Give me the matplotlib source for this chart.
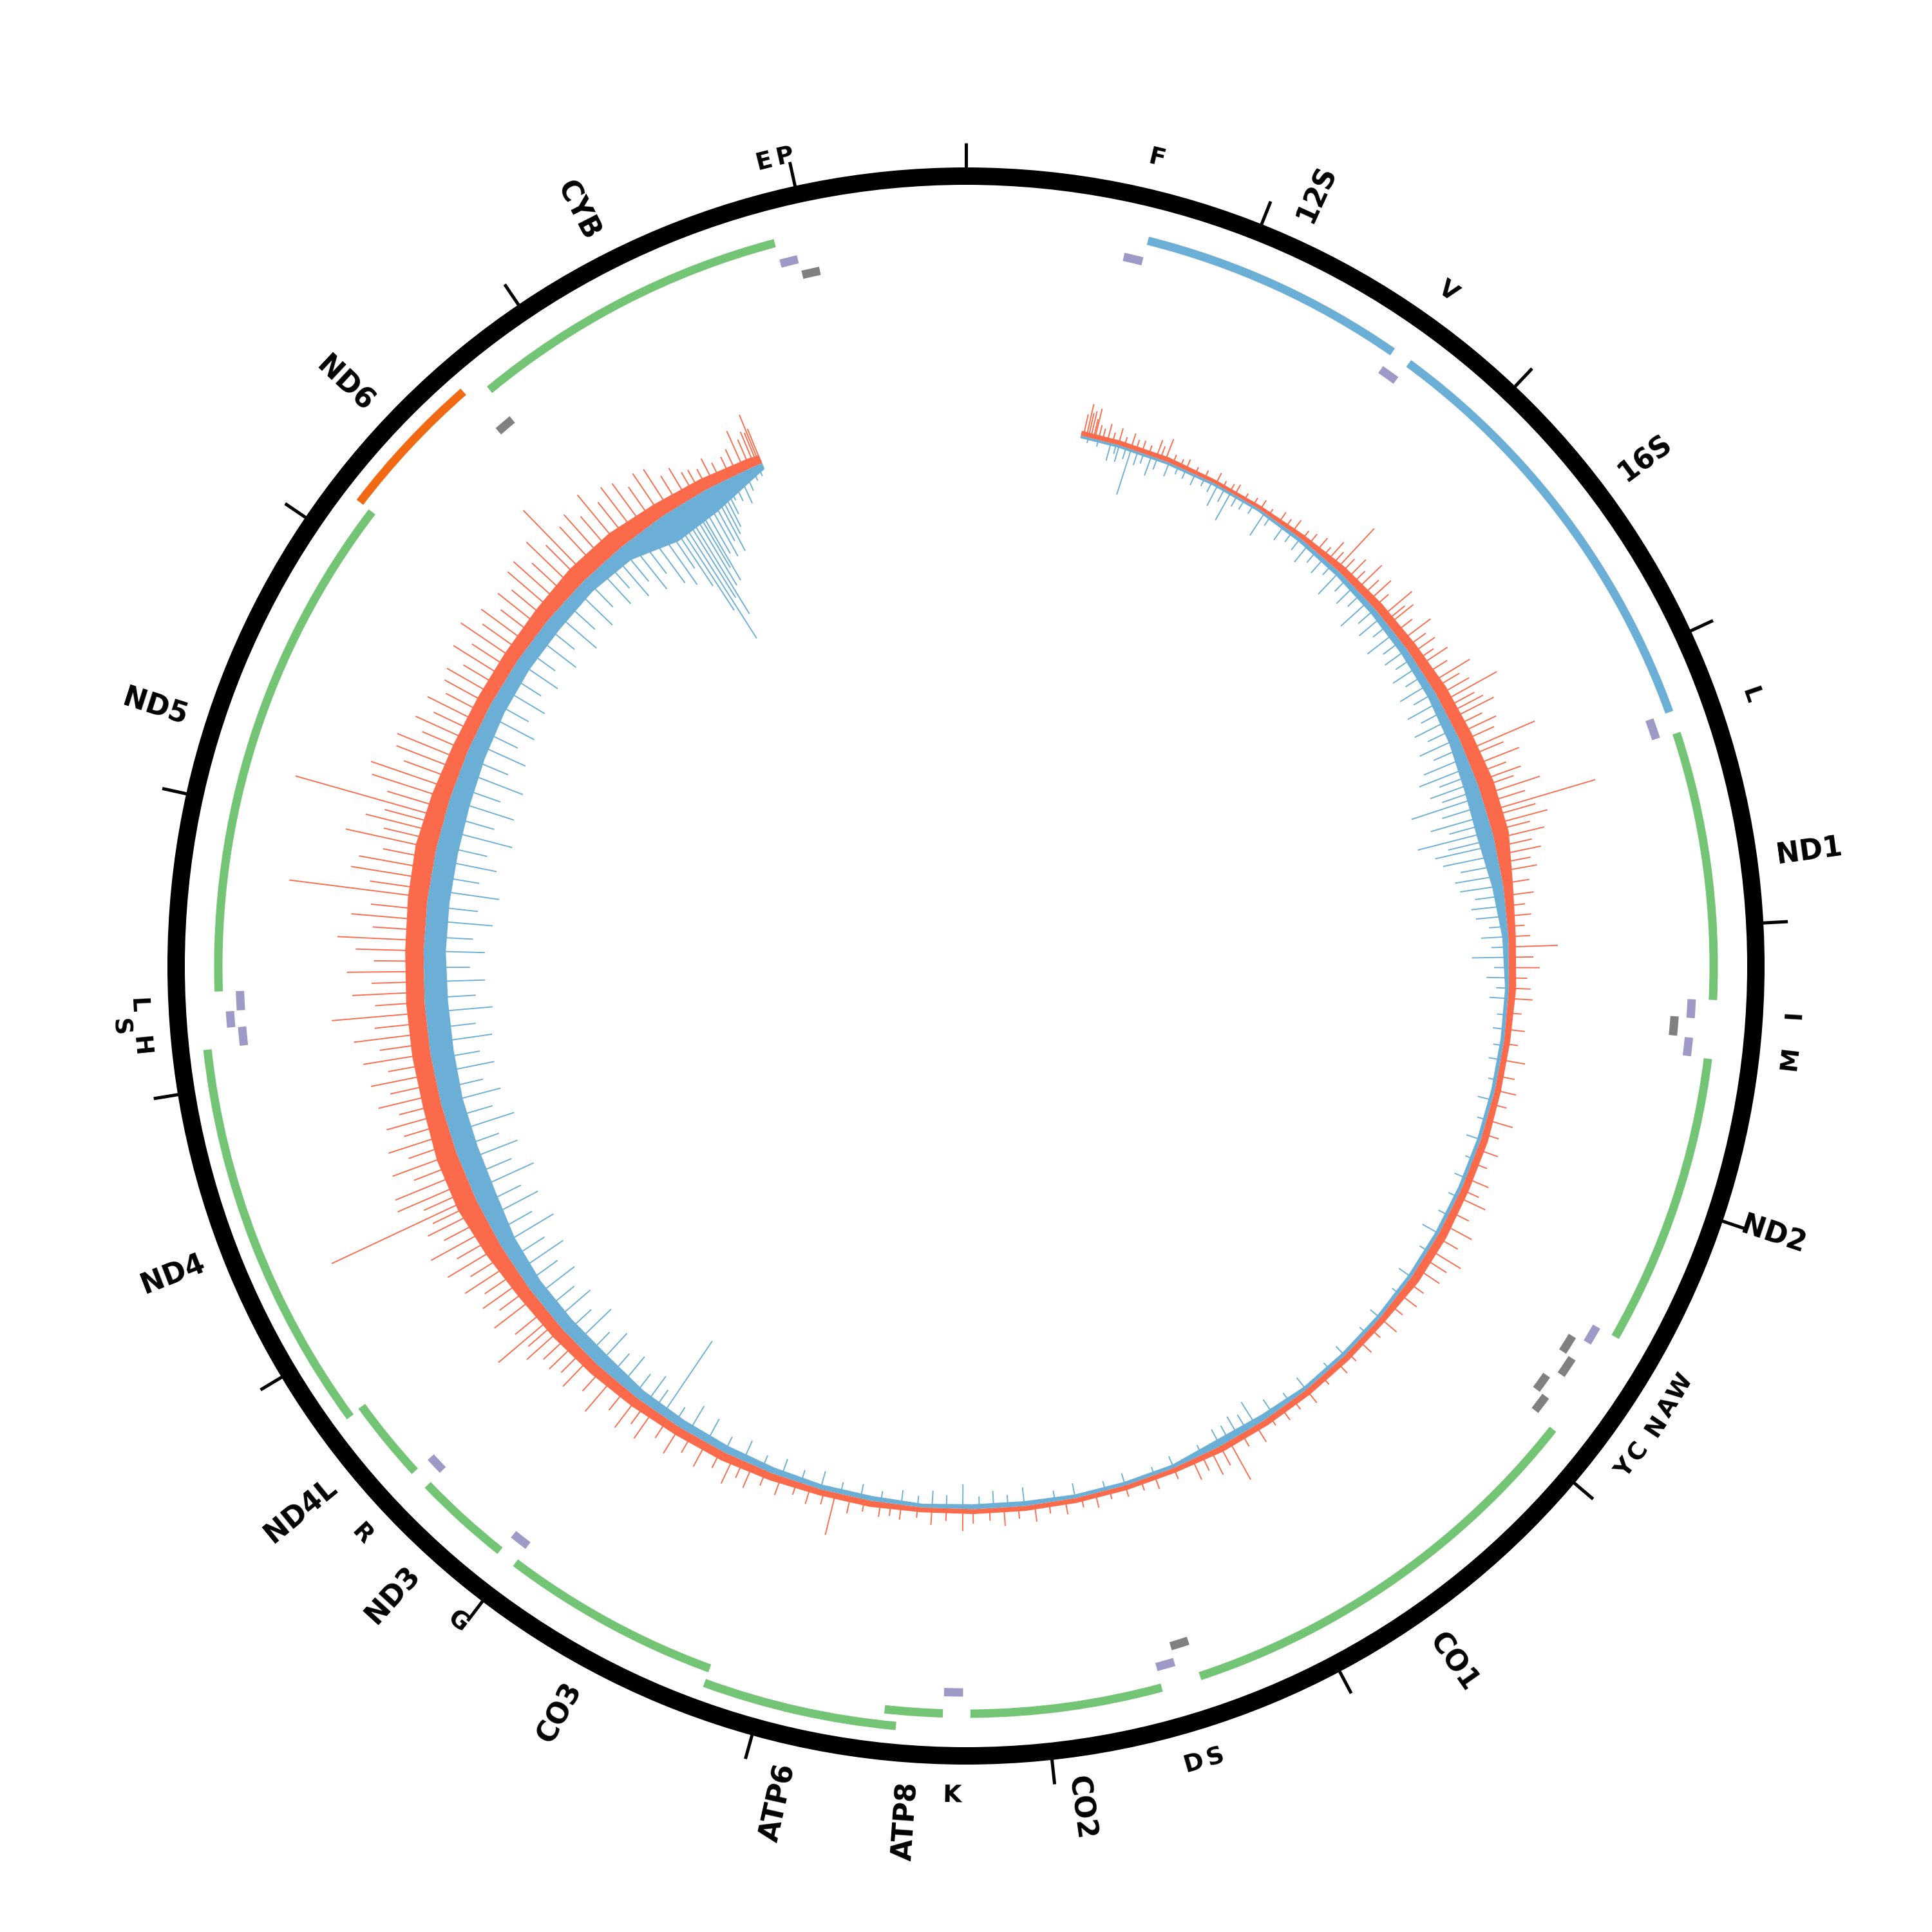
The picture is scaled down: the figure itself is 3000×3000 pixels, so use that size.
import numpy as np
import matplotlib.pyplot as plt

GENOME_LEN = 16569

# protein coding + rRNA genes
gene_names = ['12S', '16S', 'ND1', 'ND2', 'CO1', 'CO2', 'ATP8', 'ATP6', 'CO3',
              'ND3', 'ND4L', 'ND4', 'ND5', 'ND6', 'CYB']
gene_start = [648, 1671, 3307, 4470, 5904, 7586, 8366, 8527, 9207,
              10059, 10470, 10760, 12337, 14149, 14747]
gene_end = [1601, 3229, 4262, 5511, 7445, 8269, 8572, 9207, 9990,
            10404, 10766, 12137, 14148, 14673, 15887]
gene_kind = ['rRNA', 'rRNA', 'H', 'H', 'H', 'H', 'H', 'H', 'H',
             'H', 'H', 'H', 'H', 'L', 'H']

# tRNAs (label as printed on the figure, '' = not labelled)
trna_start = [577, 1602, 3230, 4263, 4329, 4402, 5512, 5587, 5657, 5761, 5826,
              7446, 7518, 8295, 9991, 10405, 12138, 12207, 12266, 14674, 15888, 15956]
trna_end = [647, 1670, 3304, 4331, 4400, 4469, 5579, 5655, 5729, 5826, 5891,
            7514, 7585, 8364, 10058, 10469, 12206, 12265, 12336, 14742, 15953, 16023]
trna_strand = ['H', 'H', 'H', 'H', 'L', 'H', 'H', 'L', 'L', 'L', 'L',
               'L', 'H', 'H', 'H', 'H', 'H', 'H', 'H', 'L', 'H', 'L']
trna_label = ['F', 'V', 'L', 'I', '', 'M', 'W', 'A', 'N', 'C', 'Y',
              'S', 'D', 'K', 'G', 'R', 'H', 'S', 'L', '', 'E', 'P']

# signal track: dense body (read every ~250 bp) + individual spikes
body_pos = [560, 750, 1000, 1250, 1500, 1750, 2000, 2250, 2500, 2750, 3000, 3250,
            3500, 3750, 4000, 4250, 4500, 4750, 5000, 5250, 5500, 5750, 6000, 6250,
            6500, 6750, 7000, 7250, 7500, 7750, 8000, 8250, 8500, 8750, 9000, 9250,
            9500, 9750, 10000, 10250, 10500, 10750, 11000, 11250, 11500, 11750, 12000,
            12250, 12500, 12750, 13000, 13250, 13500, 13750, 14000, 14250, 14500,
            14750, 15000, 15250, 15500, 15553]
plus_body = [4, 4, 4, 3, 3, 4, 6, 7, 8, 10, 11, 13,
             13, 8, 6, 6, 5, 5, 6, 6, 7, 7, 5, 5,
             5, 5, 5, 4, 4, 4, 4, 4, 4, 5, 5, 6,
             7, 7, 8, 9, 10, 11, 14, 17, 17, 15, 15,
             15, 15, 16, 17, 15, 13, 12, 12, 13, 15,
             15, 12, 10, 8, 7]
minus_body = [2, 2, 2, 2, 2, 3, 4, 5, 6, 7, 9, 12,
              13, 9, 5, 3, 3, 3, 3, 3, 3, 3, 3, 3,
              3, 5, 6, 3, 3, 3, 4, 4, 3, 4, 4, 5,
              6, 7, 8, 11, 11, 11, 13, 17, 18, 18, 19,
              19, 18, 18, 18, 17, 15, 13, 12, 12, 11,
              13, 24, 20, 8, 5]

plus_spike_pos = [
    575, 590, 600, 612, 625, 632, 650, 670, 694, 720, 750, 780, 814, 840, 870, 905,
    944, 965, 990, 1030, 1070, 1100, 1150, 1200, 1261, 1300, 1340, 1367, 1420, 1470,
    1510, 1560,
    1620, 1660, 1700, 1760, 1800, 1850, 1890, 1920, 1950, 1980, 2010, 2050, 2085,
    2120, 2160, 2200, 2240, 2300, 2330, 2350, 2400, 2450, 2490, 2530, 2570, 2600, 2650,
    2700, 2730, 2770, 2807, 2840, 2870, 2900, 2940, 2980, 3020, 3070, 3100, 3150,
    3190, 3230, 3260, 3300, 3340, 3383, 3410, 3450, 3480, 3520, 3560, 3600, 3640,
    3680, 3740, 3800,
    3850, 3900, 3950, 4000, 4050, 4100, 4150, 4200, 4250, 4300, 4370, 4450, 4520,
    4600, 4680, 4750, 4820, 4900, 4970, 5050, 5120, 5200, 5260, 5300, 5380, 5450,
    5520, 5590, 5640, 5700, 5780, 5850, 5920,
    6000, 6070, 6150, 6230, 6300, 6400, 6500, 6580, 6650, 6720, 6800, 6880, 6950,
    7000, 7050, 7100, 7150, 7250, 7350, 7420, 7500, 7580, 7650, 7720, 7800, 7880, 7950,
    8030, 8100, 8170, 8250, 8300, 8380, 8450, 8520, 8600, 8650, 8700, 8780, 8850,
    8924, 8980, 9050, 9120, 9200, 9280, 9350, 9400, 9450, 9520, 9600, 9680, 9750,
    9820, 9900,
    9950, 10000, 10070, 10150, 10220, 10300, 10350, 10400, 10450, 10500, 10540,
    10572, 10620, 10700, 10750, 10800, 10850, 10900, 10950,
    11000, 11050, 11100, 11150, 11200, 11240, 11270, 11310, 11350, 11400, 11450,
    11500, 11550, 11600, 11650, 11700, 11750, 11800, 11850, 11900, 11950, 12000,
    12050, 12100, 12150, 12200, 12250, 12300, 12350, 12400, 12450, 12500, 12550,
    12600, 12650, 12700, 12760, 12800, 12850,
    12900, 12950, 13000, 13040, 13080, 13120, 13155, 13200, 13250, 13300, 13350,
    13400, 13450, 13500, 13550, 13600, 13650, 13700, 13750, 13800, 13850, 13900,
    13950, 14000, 14050, 14100, 14150, 14200, 14250, 14300, 14350, 14400, 14450,
    14500, 14536, 14600, 14650, 14700,
    14750, 14800, 14850, 14900, 14950, 15000, 15050, 15100, 15150, 15190, 15221,
    15260, 15300, 15335, 15385, 15420, 15460, 15490, 15515, 15530, 15540, 15550]
plus_spike_val = [
    18, 27, 20, 22, 16, 25, 12, 10, 15, 9, 14, 8, 13, 9, 10, 8,
    15, 11, 19, 8, 7, 9, 6, 7, 10, 6, 7, 9, 6, 7,
    9, 6,
    10, 8, 12, 9, 11, 14, 10, 20, 14, 45, 16, 22, 15,
    28, 18, 25, 16, 32, 20, 26, 18, 30, 20, 24, 18, 28, 22,
    38, 25, 30, 52, 28, 33, 40, 26, 35, 30, 62, 32, 42,
    28, 38, 30, 50, 35, 92, 40, 48, 32, 42, 30, 36, 26,
    30, 22, 24,
    16, 20, 14, 18, 40, 20, 25, 15, 18, 20, 12, 16, 12,
    20, 14, 18, 13, 22, 14, 18, 13, 20, 16, 25, 17, 26,
    20, 30, 22, 22, 16, 18, 13,
    18, 11, 14, 10, 12, 9, 14, 10, 12, 9, 16, 12, 36,
    18, 22, 14, 18, 10, 12, 9, 10, 8, 12, 9, 12, 9, 14,
    10, 15, 10, 12, 18, 10, 14, 9, 12, 10, 12, 10, 14,
    35, 12, 15, 11, 16, 13, 20, 15, 24, 16, 22, 17, 25,
    18, 28,
    20, 30, 22, 35, 24, 32, 25, 30, 28, 38, 30,
    57, 32, 42, 30, 40, 32, 45, 34,
    50, 36, 55, 38, 48, 40, 128, 42, 62, 60, 40,
    55, 38, 52, 36, 48, 35, 50, 38, 52, 36, 55,
    40, 60, 42, 76, 40, 58, 42, 62, 40, 55, 70,
    42, 60, 45, 113, 48, 65,
    60, 42, 75, 45, 62, 48, 125, 50, 66, 70, 45,
    55, 58, 40, 50, 38, 48, 36, 42, 45, 35, 50,
    38, 55, 40, 48, 35, 45, 38, 50, 52, 40, 55,
    42, 75, 45, 50, 40,
    55, 40, 48, 45, 35, 42, 40, 28, 30, 22, 21,
    18, 24, 17, 18, 22, 35, 25, 30, 28, 43, 30]

minus_spike_pos = [
    600, 650, 713, 740, 755, 790, 816, 850, 880, 920, 950, 1012, 1060, 1100, 1150,
    1200, 1240, 1272, 1310, 1345, 1380, 1420, 1470, 1537, 1570,
    1650, 1700, 1750, 1800, 1850, 1900, 1950, 2000, 2050, 2100, 2150, 2200, 2250,
    2300, 2350, 2400, 2450, 2500, 2550, 2600, 2650,
    2700, 2750, 2800, 2850, 2900, 2950, 3000, 3050, 3100, 3150, 3190, 3230, 3270,
    3304, 3350, 3400, 3440, 3480, 3520, 3550, 3600, 3650, 3700, 3750, 3800, 3850, 3900,
    3950, 4000, 4050, 4100, 4150, 4200, 4250, 4300, 4380, 4450, 4530, 4600, 4700,
    4800, 4900, 5000, 5100, 5200, 5300, 5400, 5500, 5600, 5750, 5850, 6000,
    6100, 6250, 6350, 6500, 6600, 6700, 6800, 6850, 6900, 6950, 7000, 7100, 7250,
    7350, 7500, 7600, 7750, 7850, 8000, 8080, 8150, 8220, 8300, 8380, 8450, 8520,
    8600, 8700, 8800, 8900, 9000, 9100, 9200, 9300, 9400, 9500, 9600, 9700, 9780,
    9853, 9900, 9950, 10020, 10100, 10170, 10250, 10320, 10400, 10470, 10550, 10620,
    10700, 10780, 10850, 10920, 11000, 11070, 11150, 11220, 11300, 11370, 11450,
    11520, 11600, 11670, 11750, 11820, 11900, 11970,
    12050, 12120, 12200, 12270, 12350, 12420, 12500, 12570, 12650, 12720, 12800,
    12870, 12950, 13020, 13100, 13170, 13250, 13320, 13400, 13470, 13550, 13620,
    13700, 13770, 13850, 13920, 14000, 14070, 14150, 14220, 14300, 14370, 14450,
    14520, 14600, 14650,
    14700, 14750, 14800, 14850, 14900, 14950, 14990, 15020, 15046, 15070, 15095,
    15115, 15140, 15160, 15175, 15200, 15230, 15255, 15280, 15300, 15320, 15340,
    15358, 15390, 15428, 15460, 15500, 15530]
minus_spike_val = [
    5, 6, 15, 8, 14, 10, 39, 12, 9, 17, 10, 12, 7, 8, 10,
    7, 9, 19, 12, 26, 10, 9, 8, 22, 9,
    14, 10, 12, 18, 12, 16, 11, 25, 14, 20, 15, 30, 18,
    24, 16, 28, 18, 22, 17, 25, 18,
    28, 20, 30, 22, 32, 24, 35, 26, 38, 45, 30, 40, 32,
    60, 36, 48, 34, 62, 38, 50, 45, 32, 38, 35, 24, 28, 25,
    15, 22, 14, 30, 12, 18, 10, 15, 8, 10, 8, 10, 7,
    12, 8, 12, 7, 10, 8, 9, 15, 8, 12, 7, 10,
    7, 10, 7, 12, 9, 14, 22, 15, 18, 14, 15, 9, 10,
    7, 10, 8, 12, 9, 15, 10, 14, 10, 20, 11, 14, 9,
    12, 9, 12, 10, 15, 11, 15, 12, 18, 14, 22, 25, 16,
    73, 20, 28, 22, 30, 24, 35, 26, 40, 28, 38, 30,
    40, 32, 45, 34, 50, 36, 48, 38, 55, 40, 50,
    38, 55, 40, 50, 38, 50, 40,
    52, 40, 55, 42, 50, 38, 50, 40, 55, 42, 58,
    40, 52, 42, 60, 42, 55, 40, 55, 38, 48, 36,
    45, 34, 42, 32, 40, 30, 42, 32, 45, 34, 42,
    32, 40, 30,
    45, 36, 50, 40, 55, 62, 50, 70, 96, 125, 88,
    105, 80, 65, 78, 55, 60, 48, 59, 45, 40, 30,
    19, 22, 27, 18, 12, 10]

tick_pos = list(range(0, 16001, 1000))

# colours
gene_color = {'rRNA': '#6baed6', 'H': '#74c476', 'L': '#f16913'}
trna_color = {'H': '#9e9ac8', 'L': '#808080'}
plus_color = '#fb6a4a'
minus_color = '#6baed6'

# radii in pixels (ylim 0..1500 on a 3000 px figure)
RING_IN, RING_OUT, TICK_OUT = 1213, 1240, 1278
GENE_R = [1161, 1185]
TRNA_R = {'H': [1128, 1145], 'L': [1103, 1121]}
FEAT_W = 13
BASE_R = 843
SCALE = 1.913   # px per signal unit
LABEL_R = 1270
CROWD_BP = 70       # tRNA label squeezed between two close neighbours -> pushed out
CROWD_SHIFT = 30


def ang(pos):
    return np.asarray(pos, dtype=float) / GENOME_LEN * 2 * np.pi


def stack_lanes(starts, ends, gap=2):
    """greedy lane assignment for adjacent / overlapping features"""
    last = []
    lanes = []
    for s, e in zip(starts, ends):
        for i, le in enumerate(last):
            if s > le + gap:
                last[i] = e
                lanes.append(i)
                break
        else:
            last.append(e)
            lanes.append(len(last) - 1)
    return lanes


fig = plt.figure(figsize=(10, 10), dpi=300)
ax = fig.add_axes([0, 0, 1, 1], projection='polar')
ax.set_theta_zero_location('N')
ax.set_theta_direction(-1)
ax.set_ylim(0, 1500)
ax.set_axis_off()

# outer ring + ticks
ax.bar(0, RING_OUT - RING_IN, width=2 * np.pi, bottom=RING_IN, color='black', lw=0)
ax.vlines(ang(tick_pos), RING_OUT - 2, TICK_OUT, color='black', lw=1.2)

# genes
lanes = stack_lanes(gene_start, gene_end)
for s, e, k, ln in zip(gene_start, gene_end, gene_kind, lanes):
    ax.bar(ang((s + e) / 2), FEAT_W, width=ang(e - s), bottom=GENE_R[ln] - FEAT_W / 2,
           color=gene_color[k], lw=0)

# tRNAs, one stacking per strand
for strand in ['H', 'L']:
    idx = [i for i, st in enumerate(trna_strand) if st == strand]
    ln = stack_lanes([trna_start[i] for i in idx], [trna_end[i] for i in idx])
    for i, l in zip(idx, ln):
        s, e = trna_start[i], trna_end[i]
        ax.bar(ang((s + e) / 2), FEAT_W, width=ang(e - s),
               bottom=TRNA_R[strand][l] - FEAT_W / 2, color=trna_color[strand], lw=0)

# signal
th = ang(body_pos)
ax.fill_between(th, BASE_R, BASE_R + np.array(plus_body) * SCALE, color=plus_color, lw=0)
ax.fill_between(th, BASE_R - np.array(minus_body) * SCALE, BASE_R, color=minus_color, lw=0)
ax.vlines(ang(plus_spike_pos), BASE_R, BASE_R + np.array(plus_spike_val) * SCALE,
          color=plus_color, lw=0.45)
ax.vlines(ang(minus_spike_pos), BASE_R - np.array(minus_spike_val) * SCALE, BASE_R,
          color=minus_color, lw=0.45)

# gene labels: radial
for name, s, e in zip(gene_names, gene_start, gene_end):
    mid = (s + e) / 2
    deg = mid / GENOME_LEN * 360
    if deg <= 180:
        rot, ha = 90 - deg, 'left'
    else:
        rot, ha = 270 - deg, 'right'
    ax.text(ang(mid), LABEL_R, name, rotation=rot, rotation_mode='anchor',
            ha=ha, va='center', fontsize=10.5, fontweight='bold')

# tRNA labels: tangential
lab_mid = [(s + e) / 2 for lab, s, e in zip(trna_label, trna_start, trna_end) if lab]
lab_txt = [lab for lab in trna_label if lab]
for i, (lab, mid) in enumerate(zip(lab_txt, lab_mid)):
    deg = mid / GENOME_LEN * 360
    r = LABEL_R
    if 0 < i < len(lab_mid) - 1 and mid - lab_mid[i - 1] < CROWD_BP \
            and lab_mid[i + 1] - mid < CROWD_BP:
        r += CROWD_SHIFT
    if 90 < deg < 270:
        rot, va = 180 - deg, 'top'
    else:
        rot, va = -deg, 'bottom'
    ax.text(ang(mid), r, lab, rotation=rot, rotation_mode='anchor',
            ha='center', va=va, fontsize=9, fontweight='bold')

fig.savefig('out.png', dpi=300)
